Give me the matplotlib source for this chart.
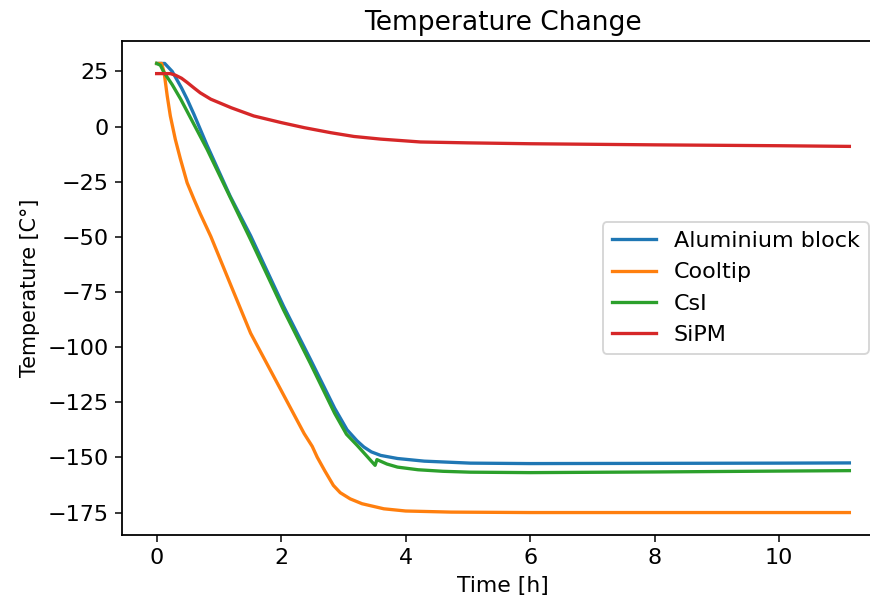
import matplotlib
matplotlib.use('Agg')
import matplotlib.pyplot as plt

# time [h] and temperature [C] per sensor
alu_t = [0, 0.13, 0.25, 0.4, 0.49, 0.6, 0.81, 1.18, 1.51, 2.04, 2.47, 2.86,
         3.06, 3.22, 3.33, 3.45, 3.6, 3.87, 4.3, 5.04, 6, 8, 10, 11.13]
alu_y = [28.6, 28.6, 25, 17.5, 12.4, 5.5, -8.5, -31.5, -49.5, -81.5, -105.5,
         -127.7, -137.5, -142.5, -145.3, -147.5, -149.1, -150.5, -151.7,
         -152.6, -152.8, -152.7, -152.6, -152.5]

tip_t = [0, 0.08, 0.12, 0.17, 0.22, 0.3, 0.38, 0.49, 0.6, 0.7, 0.87, 1.2,
         1.51, 1.9, 2.2, 2.37, 2.5, 2.58, 2.7, 2.84, 2.95, 3.11, 3.3, 3.65,
         4.0, 4.73, 6, 8, 10, 11.13]
tip_y = [28.6, 28.6, 24.6, 13.9, 4.8, -5.8, -14.5, -25.5, -33, -39.5, -49.8,
         -72.5, -93.7, -114.3, -130.2, -139.2, -145, -149.9, -156, -162.7,
         -166, -168.8, -171, -173.3, -174.3, -174.8, -175, -175, -175, -175]

csi_t = [0, 0.06, 0.117, 0.25, 0.385, 0.81, 1.18, 1.51, 2.04, 2.47, 2.86,
         3.05, 3.22, 3.38, 3.51, 3.54, 3.7, 3.87, 4.2, 4.6, 5.04, 6, 8, 10,
         11.13]
csi_y = [28.6, 27.8, 24.6, 19, 12.5, -10.3, -32, -51.3, -83.2, -107.4, -130,
         -139.5, -144.5, -149.5, -153.6, -151, -153, -154.4, -155.6, -156.3,
         -156.7, -156.9, -156.6, -156.2, -156]

sipm_t = [0, 0.22, 0.3, 0.4, 0.49, 0.6, 0.7, 0.87, 1.2, 1.56, 2.0, 2.37,
          2.8, 3.17, 3.6, 4.24, 5, 6, 8, 10, 11.13]
sipm_y = [24, 24, 23.3, 21.9, 20, 17.5, 15.3, 12.4, 8.5, 4.8, 1.8, -0.5,
          -2.8, -4.5, -5.7, -7.0, -7.4, -7.8, -8.3, -8.7, -9.0]

plt.rcParams['font.size'] = 11.8
plt.rcParams['lines.linewidth'] = 1.75
plt.rcParams['axes.linewidth'] = 0.95

fig = plt.figure(figsize=(870 / 136, 608 / 136), dpi=136)
ax = fig.add_axes([122 / 870, 1 - 535 / 608, (884 - 122) / 870,
                   (535 - 41) / 608])

ax.plot(alu_t, alu_y, label='Aluminium block')
ax.plot(tip_t, tip_y, label='Cooltip')
ax.plot(csi_t, csi_y, label='CsI')
ax.plot(sipm_t, sipm_y, label='SiPM')

ax.set_xlim(-0.5565, 11.6865)
ax.set_title('Temperature Change', fontsize=14)
ax.set_xlabel('Time [h]', fontsize=11.6)
ax.set_ylabel('Temperature [C°]', fontsize=10.9)
ax.legend(loc='center right', bbox_to_anchor=(0.98, 0.5), borderaxespad=0)

fig.savefig('out.png', dpi=136)
